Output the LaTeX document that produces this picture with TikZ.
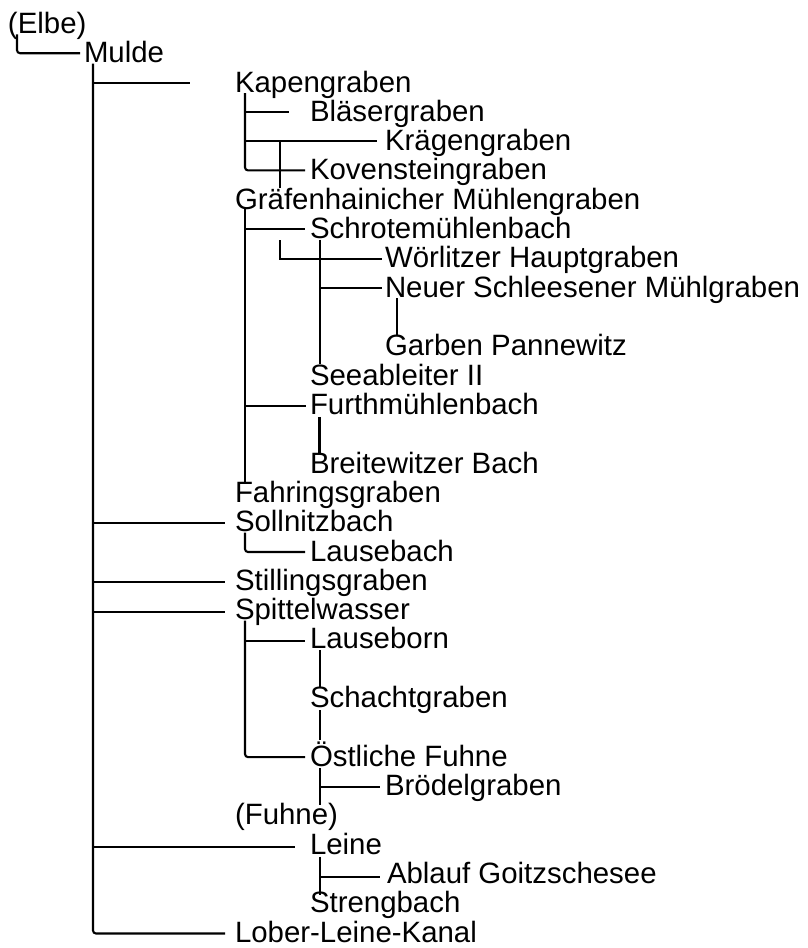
\documentclass[tikz,border=0pt]{standalone}
\usepackage{fontspec}
\setmainfont{Liberation Sans}
\usetikzlibrary{calc}
\begin{document}
\begin{tikzpicture}[x=1pt,y=-1pt,
  lbl/.style={anchor=base west,inner sep=0pt,outer sep=0pt,font=\fontsize{29.4}{29.4}\selectfont},
  conn/.style={line width=2.1pt,black},
  rconn/.style={conn,rounded corners=3pt}]
\fill[white] (0,0) rectangle (807,948);
\useasboundingbox (0,0) rectangle (807,948);
% nodes
\node[lbl] (elbe) at (8,33.4) {(Elbe)};
\node[lbl] (mulde) at (84,62.7) {Mulde};
\node[lbl] (kap) at (235,92) {Kapengraben};
\node[lbl] (blaeser) at (310,121.3) {Bläsergraben};
\node[lbl] (kraegen) at (385,150.6) {Krägengraben};
\node[lbl] (koven) at (310,179.9) {Kovensteingraben};
\node[lbl] (graef) at (235,209.2) {Gräfenhainicher Mühlengraben};
\node[lbl] (schrote) at (310,238.6) {Schrotemühlenbach};
\node[lbl] (woerl) at (385,267.9) {Wörlitzer Hauptgraben};
\node[lbl] (neuer) at (385,297.2) {Neuer Schleesener Mühlgraben};
\node[lbl] (garben) at (385,355.8) {Garben Pannewitz};
\node[lbl] (seeab) at (310,385.1) {Seeableiter II};
\node[lbl] (furth) at (310,414.4) {Furthmühlenbach};
\node[lbl] (breite) at (310,473) {Breitewitzer Bach};
\node[lbl] (fahr) at (235,502.3) {Fahringsgraben};
\node[lbl] (soll) at (235,531.7) {Sollnitzbach};
\node[lbl] (lausebach) at (310,561) {Lausebach};
\node[lbl] (still) at (235,590.3) {Stillingsgraben};
\node[lbl] (spittel) at (235,619.6) {Spittelwasser};
\node[lbl] (lauseborn) at (310,648.9) {Lauseborn};
\node[lbl] (schacht) at (310,707.5) {Schachtgraben};
\node[lbl] (oestl) at (310,766.1) {Östliche Fuhne};
\node[lbl] (broedel) at (385,795.4) {Brödelgraben};
\node[lbl] (fuhne) at (235,824.8) {(Fuhne)};
\node[lbl] (leine) at (310,854.1) {Leine};
\node[lbl] (ablauf) at (387,883.4) {Ablauf Goitzschesee};
\node[lbl] (streng) at (310,912.7) {Strengbach};
\node[lbl] (lober) at (235,942) {Lober-Leine-Kanal};
% Elbe - Mulde
\draw[rconn] ($(elbe.base west)+(9,1)$) |- ($(mulde.base west)+(-4,-9.5)$);
% Mulde trunk
\coordinate (mt) at ($(mulde.base west)+(9,0)$);
\draw[rconn] ($(mulde.base west)+(9,1)$) |- ($(lober.base west)+(-10,-8.5)$);
\draw[conn] ($(mt |- kap.base west)+(0,-9)$) -- ($(kap.base west)+(-45,-9)$);
\draw[conn] ($(mt |- soll.base west)+(0,-8.5)$) -- ($(soll.base west)+(-10,-8.5)$);
\draw[conn] ($(mt |- still.base west)+(0,-8)$) -- ($(still.base west)+(-10,-8)$);
\draw[conn] ($(mt |- spittel.base west)+(0,-8)$) -- ($(spittel.base west)+(-10,-8)$);
\draw[conn] ($(mt |- leine.base west)+(0,-7.5)$) -- ($(leine.base west)+(-15,-7.5)$);
% Kapengraben group
\draw[rconn] ($(kap.base west)+(10,1)$) |- ($(koven.base west)+(-5,-9.5)$);
\draw[conn] ($(kap.base west |- blaeser.base west)+(10,-9.5)$) -- ($(blaeser.base west)+(-21,-9.5)$);
\draw[conn] ($(kap.base west |- kraegen.base west)+(10,-9.5)$) -- ($(kraegen.base west)+(-8,-9.5)$);
\draw[conn] ($(kap.base west |- kraegen.base west)+(45,-9.5)$) -- ($(graef.base west)+(45,-21.5)$);
% Graefenhainicher group
\draw[conn] ($(graef.base west)+(10,0)$) -- ($(fahr.base west)+(10,-20.5)$);
\draw[conn] ($(graef.base west |- schrote.base west)+(10,-9.5)$) -- ($(schrote.base west)+(-5,-9.5)$);
\draw[conn] ($(graef.base west |- furth.base west)+(10,-8)$) -- ($(furth.base west)+(-4,-8)$);
\draw[conn] ($(graef.base west |- schrote.base west)+(45,1.5)$) |- ($(woerl.base west)+(-3,-8.5)$);
\draw[conn] ($(schrote.base west)+(10,1)$) -- ($(seeab.base west)+(10,-21.5)$);
\draw[conn] ($(schrote.base west |- neuer.base west)+(10,-9)$) -- ($(neuer.base west)+(-3,-9)$);
\draw[conn] ($(neuer.base west)+(12,1)$) -- ($(garben.base west)+(12,-21)$);
\draw[conn] ($(furth.base west)+(9.5,2.5)$) -- ($(breite.base west)+(9.5,-20)$);
% Sollnitzbach
\draw[rconn] ($(soll.base west)+(10,1)$) |- ($(lausebach.base west)+(-5,-9)$);
% Spittelwasser group
\draw[rconn] ($(spittel.base west)+(10,1)$) |- ($(oestl.base west)+(-5,-9)$);
\draw[conn] ($(spittel.base west |- lauseborn.base west)+(10,-8)$) -- ($(lauseborn.base west)+(-5,-8)$);
\draw[conn] ($(lauseborn.base west)+(10,1)$) -- ($(schacht.base west)+(10,-20.5)$);
\draw[conn] ($(schacht.base west)+(10,2.5)$) -- ($(oestl.base west)+(10,-26)$);
\draw[conn] ($(oestl.base west)+(10,2)$) -- ($(fuhne.base west)+(85,-20)$);
\draw[conn] ($(oestl.base west |- broedel.base west)+(10,-8)$) -- ($(broedel.base west)+(-5,-8)$);
% Leine group
\draw[conn] ($(leine.base west)+(10,2.5)$) -- ($(streng.base west)+(10,-18)$);
\draw[conn] ($(leine.base west |- ablauf.base west)+(10,-6.5)$) -- ($(ablauf.base west)+(-7,-6.5)$);
\end{tikzpicture}
\end{document}
